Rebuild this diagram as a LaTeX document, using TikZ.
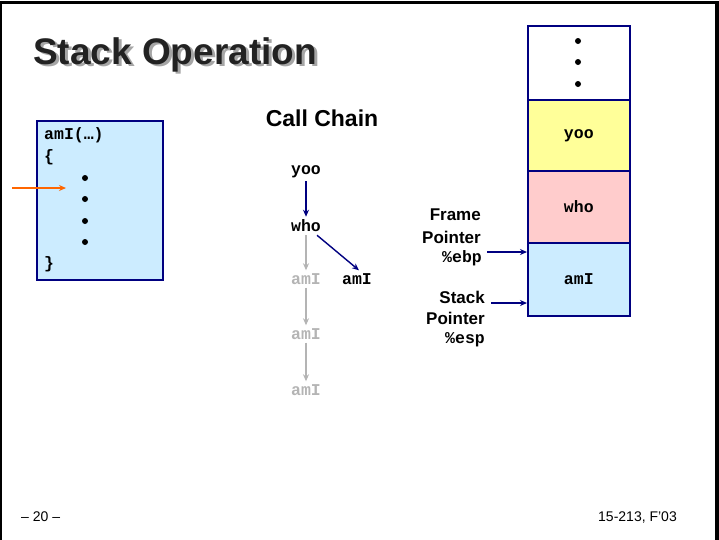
\documentclass[tikz,border=0pt]{standalone}
\usepackage{fontspec}
\setmainfont{Liberation Sans}
\newfontfamily\monofont{Liberation Mono}
\usetikzlibrary{arrows.meta}
\definecolor{navy}{HTML}{000080}
\definecolor{lblue}{HTML}{CCECFF}
\definecolor{lyellow}{HTML}{FFFF99}
\definecolor{lpink}{HTML}{FFCCCC}
\definecolor{orng}{HTML}{FF6600}
\definecolor{fade}{HTML}{B4B4B4}
\definecolor{ttl}{HTML}{222222}
\begin{document}
\begin{tikzpicture}[x=1pt,y=-1pt,
  mono/.style={font=\monofont\bfseries\fontsize{16.5}{18}\selectfont, inner sep=0pt},
  sans/.style={font=\bfseries\fontsize{17}{21.5}\selectfont, inner sep=0pt},
  faded/.style={mono, text=fade},
  cell/.style={draw=navy, line width=1.6pt, minimum width=102pt, anchor=north west, inner sep=0pt},
  navyarr/.style={draw=navy, line width=1.4pt, -{Stealth[length=7pt,width=6pt]}},
  grayarr/.style={draw=fade, line width=1.2pt, -{Stealth[length=7pt,width=6pt]}},
  dot/.style={circle, fill=black, inner sep=0pt, minimum size=6pt}]
\useasboundingbox (0,0) rectangle (719,539);
% slide frame
\draw[line width=2.5pt] (1.2,545) -- (1.2,2.5) -- (716,2.5);
\draw[line width=4pt] (716.5,1) -- (716.5,545);
% title with shadow
\node[anchor=base west, inner sep=0pt, font=\bfseries\fontsize{37}{40}\selectfont, text=ttl] (title) at (33,64)
  {\rlap{\raisebox{-2.5pt}{\hspace{3pt}\textcolor{gray!70}{Stack Operation}}}Stack Operation};
% code box
\node[draw=navy, fill=lblue, line width=1.6pt, minimum width=126pt, minimum height=159pt, anchor=north west, inner sep=0pt] (code) at (36,120) {};
\node[mono, anchor=west] (sig) at (44,135) {amI(\char"2026)};
\node[mono, anchor=west] (lbr) at (44,157) {\{};
\node[mono, anchor=west] (rbr) at (44,264) {\}};
\node[dot] (c1) at (85,178) {};
\node[dot] (c2) at (85,199) {};
\node[dot] (c3) at (85,221) {};
\node[dot] (c4) at (85,242) {};
\coordinate (pc) at (12,188);
\coordinate (pcend) at (66,188);
\draw[draw=orng, line width=2.2pt, -{Stealth[length=7pt,width=6pt]}] (pc) -- (pcend);
% call chain
\node[font=\bfseries\fontsize{23}{26}\selectfont, inner sep=0pt] (cc) at (322,118) {Call Chain};
\node[mono] (yoo) at (306,172) {yoo};
\node[mono] (who) at (306,226) {who};
\node[faded] (a1) at (306,279) {amI};
\node[mono] (a1b) at (357,279) {amI};
\node[faded] (a2) at (306,334) {amI};
\node[faded] (a3) at (306,390) {amI};
\draw[navyarr] ([yshift=-3pt]yoo.south) -- ([yshift=3pt]who.north);
\draw[navyarr] ([xshift=-4pt,yshift=-3pt]who.south east) -- ([xshift=2pt,yshift=3pt]a1b.north);
\draw[grayarr] ([yshift=-3pt]who.south) -- ([yshift=3pt]a1.north);
\draw[grayarr] ([yshift=-3pt]a1.south) -- ([yshift=3pt]a2.north);
\draw[grayarr] ([yshift=-3pt]a2.south) -- ([yshift=3pt]a3.north);
% stack
\node[cell, fill=white, minimum height=74pt] (sdots) at (527,25) {};
\node[cell, fill=lyellow, minimum height=71pt] (syoo) at (527,99) {};
\node[cell, fill=lpink, minimum height=72pt] (swho) at (527,170) {};
\node[cell, fill=lblue, minimum height=73pt] (sami) at (527,242) {};
\node[dot] (s1) at (578,41) {};
\node[dot] (s2) at (578,62) {};
\node[dot] (s3) at (578,84) {};
\node[mono] (lyoo) at (syoo.center) {yoo};
\node[mono] (lwho) at (swho.center) {who};
\node[mono] (lami) at (sami.center) {amI};
% pointers
\node[sans, anchor=east] (fr1) at (481,215) {Frame};
\node[sans, anchor=east] (fr2) at (481,237) {Pointer};
\node[mono, anchor=east] (fr3) at (482,258) {\%ebp};
\node[sans, anchor=east] (st1) at (485,297) {Stack};
\node[sans, anchor=east] (st2) at (485,318) {Pointer};
\node[mono, anchor=east] (st3) at (485,340) {\%esp};
\coordinate (fp) at (487,252);
\coordinate (sp) at (491,303);
\draw[navyarr, line width=1.6pt] (fp) -- (fp -| sami.west);
\draw[navyarr, line width=1.6pt] (sp) -- (sp -| sami.west);
% footer
\node[font=\fontsize{14}{16}\selectfont, anchor=west, inner sep=0pt] (pg) at (21,517) {\char"2013{} 20 \char"2013};
\node[font=\fontsize{14}{16}\selectfont, anchor=east, inner sep=0pt] (crs) at (677,517) {15-213, F'03};
\end{tikzpicture}
\end{document}
